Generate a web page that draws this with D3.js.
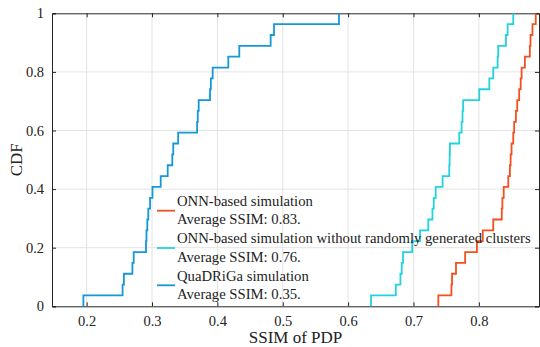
<!DOCTYPE html>
<html>
<head>
<meta charset="utf-8">
<script src="https://cdn.jsdelivr.net/npm/d3@7"></script>
<style>
  body { margin: 0; background: #fff; }
  svg text { font-family: "Liberation Serif", "DejaVu Serif", serif; fill: #222; }
</style>
</head>
<body>
<svg id="chart" width="540" height="347"></svg>
<script>
// sorted SSIM samples, one step of 1/27 each
let onnValues = [0.738, 0.758, 0.759, 0.765, 0.779, 0.797, 0.806, 0.822, 0.835, 0.836,
  0.838, 0.845, 0.8475, 0.8486, 0.850, 0.8526, 0.854, 0.8567, 0.8587, 0.8617,
  0.864, 0.8654, 0.8704, 0.878, 0.879, 0.882, 0.887];
let onnNoClusterValues = [0.635, 0.673, 0.680, 0.682, 0.684, 0.698, 0.710, 0.7226, 0.729, 0.731,
  0.734, 0.7445, 0.7547, 0.7553, 0.7557, 0.770, 0.7736, 0.775, 0.776, 0.8006,
  0.816, 0.822, 0.8287, 0.8296, 0.8414, 0.844, 0.8526];
let quadrigaValues = [0.195, 0.255, 0.257, 0.270, 0.272, 0.2908, 0.2915, 0.2928, 0.2943, 0.297,
  0.3007, 0.3133, 0.324, 0.331, 0.3325, 0.340, 0.369, 0.370, 0.3714, 0.3887,
  0.390, 0.3928, 0.4167, 0.4335, 0.4815, 0.4866, 0.586];

let seriesNames = ["ONN-based simulation", "ONN-based simulation without randomly generated clusters", "QuaDRiGa simulation"];
let averageLabels = ["Average SSIM: 0.83.", "Average SSIM: 0.76.", "Average SSIM: 0.35."];
let seriesColors = ["#f2501f", "#22d3df", "#1598d6"];
let xTicks = [0.2, 0.3, 0.4, 0.5, 0.6, 0.7, 0.8];
let yTicks = [0, 0.2, 0.4, 0.6, 0.8, 1];

let chart = {
  margin: {top: 13.3, right: 1, bottom: 40.7, left: 52},
  width: 540, height: 347
}
let innerW = chart.width - chart.margin.left - chart.margin.right;
let innerH = chart.height - chart.margin.top - chart.margin.bottom;

let svg = d3.select("#chart");
let g = svg.append("g").attr("transform", "translate(" + chart.margin.left + "," + chart.margin.top + ")");

let x = d3.scaleLinear().domain([0.147, 0.892]).range([0, innerW]);
let y = d3.scaleLinear().domain([0, 1]).range([innerH, 0]);

// grid
g.selectAll(".vgrid").data(xTicks).enter().append("line")
  .attr("x1", d => x(d)).attr("x2", d => x(d)).attr("y1", 0).attr("y2", innerH)
  .attr("stroke", "#e3e3e3").attr("stroke-width", 1);
g.selectAll(".hgrid").data(yTicks.slice(1, -1)).enter().append("line")
  .attr("x1", 0).attr("x2", innerW).attr("y1", d => y(d)).attr("y2", d => y(d))
  .attr("stroke", "#e3e3e3").attr("stroke-width", 1);

// axes, ticks pointing inward
let xAxis = g.append("g").attr("transform", "translate(0," + innerH + ")")
  .call(d3.axisBottom(x).tickValues(xTicks).tickSize(-4).tickPadding(9).tickFormat(d3.format(".1f")));
let xTop = g.append("g").call(d3.axisTop(x).tickValues(xTicks).tickSize(-4).tickFormat(""));
let yAxis = g.append("g")
  .call(d3.axisLeft(y).tickValues(yTicks).tickSize(-4).tickPadding(8).tickFormat(d => d == 0 || d == 1 ? d : d3.format(".1f")(d)));
let yRight = g.append("g").attr("transform", "translate(" + innerW + ",0)")
  .call(d3.axisRight(y).tickValues(yTicks).tickSize(-4).tickFormat(""));

[xAxis, xTop, yAxis, yRight].forEach(a => {
  a.attr("font-family", null);
  a.select(".domain").attr("stroke", "#262626").attr("stroke-width", 1);
  a.selectAll(".tick line").attr("stroke", "#262626");
  a.selectAll("text").attr("font-size", 14.5).attr("fill", "#222");
});

// CDF step curves
let allSeries = [onnValues, onnNoClusterValues, quadrigaValues];
let line = d3.line().x(d => x(d[0])).y(d => y(d[1])).curve(d3.curveStepAfter);
allSeries.forEach((vals, i) => {
  let n = vals.length;
  let pts = [[vals[0], 0]].concat(vals.map((v, k) => [v, (k + 1) / n]));
  g.append("path").datum(pts)
    .attr("d", line)
    .attr("fill", "none")
    .attr("stroke", seriesColors[i])
    .attr("stroke-width", 1.8);
});

// legend
let legend = svg.append("g").attr("transform", "translate(157,0)");
seriesNames.forEach((name, i) => {
  let top = 206 + i * 37.3;
  legend.append("line")
    .attr("x1", 0).attr("x2", 18).attr("y1", top + 4.7).attr("y2", top + 4.7)
    .attr("stroke", seriesColors[i]).attr("stroke-width", 1.8);
  legend.append("text").attr("x", 20).attr("y", top).attr("font-size", 14.7).text(name);
  legend.append("text").attr("x", 20).attr("y", top + 18.3).attr("font-size", 14.7).text(averageLabels[i]);
});

// axis titles
svg.append("text")
  .attr("x", chart.margin.left + innerW / 2).attr("y", 343)
  .attr("text-anchor", "middle").attr("font-size", 17).text("SSIM of PDP");
svg.append("text")
  .attr("transform", "translate(22," + (chart.margin.top + innerH / 2) + ") rotate(-90)")
  .attr("text-anchor", "middle").attr("font-size", 17).text("CDF");
</script>
</body>
</html>
